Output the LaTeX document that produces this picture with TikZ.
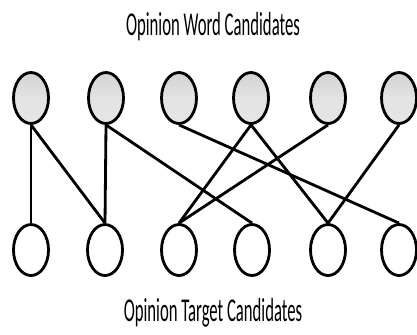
\documentclass[tikz,border=0pt]{standalone}
\usepackage{fontspec}
\setmainfont{Carlito}
\usepackage{tikz}
\usetikzlibrary{shapes.geometric}

\begin{document}
\begin{tikzpicture}
    \tikzstyle{word cand}=[
        draw = black,
        thick,
        ellipse,
        minimum width = 3.5mm,
        minimum height = 5.1mm,
        inner sep = 0pt,
        top color = gray!35,
        bottom color = gray!20,
        middle color = gray!22
    ]
    \tikzstyle{target cand}=[
        draw = black,
        thick,
        ellipse,
        minimum width = 3.5mm,
        minimum height = 5.1mm,
        inner sep = 0pt,
        fill = white
    ]
    \tikzstyle{caption}=[
        font = \fontsize{9.5}{10}\selectfont,
        inner sep = 0pt
    ]

    \useasboundingbox (0, 0) rectangle (4.17, 3.34);

	\node[caption] (wc) at (2.13, 3.07) {\scalebox{0.5}[1]{Opinion Word Candidates}};
	\node[caption] (tc) at (2.13, 0.21) {\scalebox{0.5}[1]{Opinion Target Candidates}};

	\node[word cand]   (w1) at (0.31, 2.36) {};
	\node[word cand]   (w2) at (1.06, 2.36) {};
	\node[word cand]   (w3) at (1.79, 2.36) {};
	\node[word cand]   (w4) at (2.51, 2.36) {};
	\node[word cand]   (w5) at (3.28, 2.36) {};
	\node[word cand]   (w6) at (3.99, 2.36) {};

	\node[target cand] (t1) at (0.31, 0.84) {};
	\node[target cand] (t2) at (1.05, 0.84) {};
	\node[target cand] (t3) at (1.79, 0.84) {};
	\node[target cand] (t4) at (2.52, 0.84) {};
	\node[target cand] (t5) at (3.28, 0.84) {};
	\node[target cand] (t6) at (3.99, 0.84) {};

	\draw[thick] (w1.south) -- (t1.north);
	\draw[thick] (w1.south) -- (t2.north);
	\draw[thick] (w2.south) -- (t2.north);
	\draw[thick] (w2.south) -- (t4.north);
	\draw[thick] (w3.south) -- (t6.north);
	\draw[thick] (w4.south) -- (t3.north);
	\draw[thick] (w4.south) -- (t5.north);
	\draw[thick] (w5.south) -- (t3.north);
	\draw[thick] (w6.south) -- (t5.north);

	\end{tikzpicture}
\end{document}
